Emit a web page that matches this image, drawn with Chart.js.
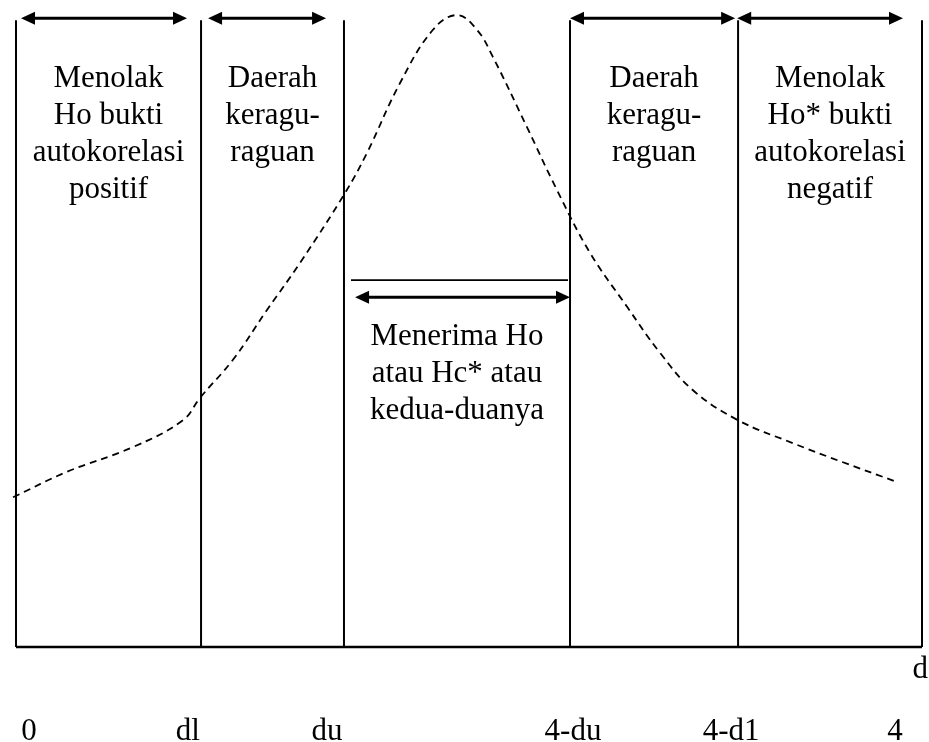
<!DOCTYPE html>
<html>
<head>
<meta charset="utf-8">
<script src="https://cdn.jsdelivr.net/npm/chart.js@4"></script>
<style>
  html, body { margin: 0; padding: 0; background: #fff; }
  canvas { display: block; }
</style>
</head>
<body>
<canvas id="dwChart" width="929" height="742"></canvas>
<script>
// Durbin-Watson decision regions on the d axis (0 .. 4)
const boundaries = [0, 0.817, 1.448, 2.446, 3.188, 4];
const lineTop = 0.984;

// dashed distribution curve
const curveX = [-0.013, 0.225, 0.517, 0.737, 0.812, 0.958, 1.108, 1.254, 1.453, 1.550, 1.695, 1.841, 1.947,
                2.035, 2.106, 2.256, 2.389, 2.534, 2.698, 2.843, 2.989, 3.188, 3.430, 3.651, 3.890];
const curveY = [0.235, 0.275, 0.314, 0.356, 0.391, 0.451, 0.529, 0.603, 0.713, 0.776, 0.885, 0.969, 0.992,
                0.969, 0.926, 0.816, 0.717, 0.619, 0.534, 0.462, 0.403, 0.356, 0.320, 0.290, 0.259];

// arrows (start, end) along the top, and the one for the acceptance region
const topArrows = [[0.022, 0.755], [0.848, 1.369], [2.446, 3.175], [3.184, 3.916]];
const arrowTopY = 0.987;
const midLine = [1.479, 2.437];
const midLineY = 0.576;
const midArrow = [1.497, 2.446];
const midArrowY = 0.549;

const regionLabels = [
  ["Menolak", "Ho bukti", "autokorelasi", "positif"],
  ["Daerah", "keragu-", "raguan"],
  ["Menerima Ho", "atau Hc* atau", "kedua-duanya"],
  ["Daerah", "keragu-", "raguan"],
  ["Menolak", "Ho* bukti", "autokorelasi", "negatif"]
];

const tickPos = [0.057, 0.759, 1.373, 2.459, 3.157, 3.881];
const tickLabels = ["0", "dl", "du", "4-du", "4-d1", "4"];
const axisName = "d";

const FONT = '31px "Liberation Serif", "Times New Roman", serif';

// build data for the separators: one segment per boundary, gaps between
const sepData = [];
boundaries.forEach(b => {
  sepData.push({ x: b, y: 0 });
  sepData.push({ x: b, y: lineTop });
  sepData.push({ x: b, y: null });
});

const curveData = curveX.map((x, i) => ({ x: x, y: curveY[i] }));

function drawArrow(ctx, x1, x2, y) {
  const head = 14, half = 6.5;
  ctx.beginPath();
  ctx.lineWidth = 3;
  ctx.moveTo(x1 + head - 1, y);
  ctx.lineTo(x2 - head + 1, y);
  ctx.stroke();
  ctx.beginPath();
  ctx.moveTo(x1, y);
  ctx.lineTo(x1 + head, y - half);
  ctx.lineTo(x1 + head, y + half);
  ctx.closePath();
  ctx.fill();
  ctx.beginPath();
  ctx.moveTo(x2, y);
  ctx.lineTo(x2 - head, y - half);
  ctx.lineTo(x2 - head, y + half);
  ctx.closePath();
  ctx.fill();
}

const annotations = {
  id: 'dwAnnotations',
  afterDatasetsDraw(chart) {
    const ctx = chart.ctx;
    const xs = chart.scales.x, ys = chart.scales.y;
    const area = chart.chartArea;
    ctx.save();
    ctx.fillStyle = '#000';
    ctx.strokeStyle = '#000';

    topArrows.forEach(a => {
      drawArrow(ctx, xs.getPixelForValue(a[0]), xs.getPixelForValue(a[1]), ys.getPixelForValue(arrowTopY));
    });
    drawArrow(ctx, xs.getPixelForValue(midArrow[0]), xs.getPixelForValue(midArrow[1]), ys.getPixelForValue(midArrowY));

    ctx.font = FONT;
    ctx.textAlign = 'center';
    ctx.textBaseline = 'alphabetic';
    regionLabels.forEach((lines, i) => {
      const cx = (xs.getPixelForValue(boundaries[i]) + xs.getPixelForValue(boundaries[i + 1])) / 2;
      const y0 = area.top + (i === 2 ? 335 : 77);
      lines.forEach((t, k) => ctx.fillText(t, cx, y0 + k * 37));
    });

    tickLabels.forEach((t, i) => {
      ctx.fillText(t, xs.getPixelForValue(tickPos[i]), area.bottom + 93);
    });

    ctx.textAlign = 'right';
    ctx.fillText(axisName, area.right + 6, area.bottom + 31);
    ctx.restore();
  }
};

new Chart(document.getElementById('dwChart'), {
  type: 'scatter',
  data: {
    datasets: [
      {
        data: curveData,
        showLine: true,
        borderColor: '#000',
        borderWidth: 1.8,
        borderDash: [7, 5],
        tension: 0.4,
        pointRadius: 0,
        clip: false
      },
      {
        data: sepData,
        showLine: true,
        spanGaps: false,
        borderColor: '#000',
        borderWidth: 2,
        pointRadius: 0,
        clip: false
      },
      {
        data: [{ x: boundaries[0], y: 0 }, { x: boundaries[boundaries.length - 1], y: 0 }],
        showLine: true,
        borderColor: '#000',
        borderWidth: 2.5,
        pointRadius: 0,
        clip: false
      },
      {
        data: [{ x: midLine[0], y: midLineY }, { x: midLine[1], y: midLineY }],
        showLine: true,
        borderColor: '#000',
        borderWidth: 1.6,
        pointRadius: 0,
        clip: false
      }
    ]
  },
  options: {
    responsive: false,
    animation: false,
    layout: { padding: { left: 16, right: 7, top: 10, bottom: 95 } },
    scales: {
      x: { type: 'linear', min: 0, max: 4, display: false },
      y: { type: 'linear', min: 0, max: 1, display: false }
    },
    plugins: {
      legend: { display: false },
      tooltip: { enabled: false }
    }
  },
  plugins: [annotations]
});
</script>
</body>
</html>
